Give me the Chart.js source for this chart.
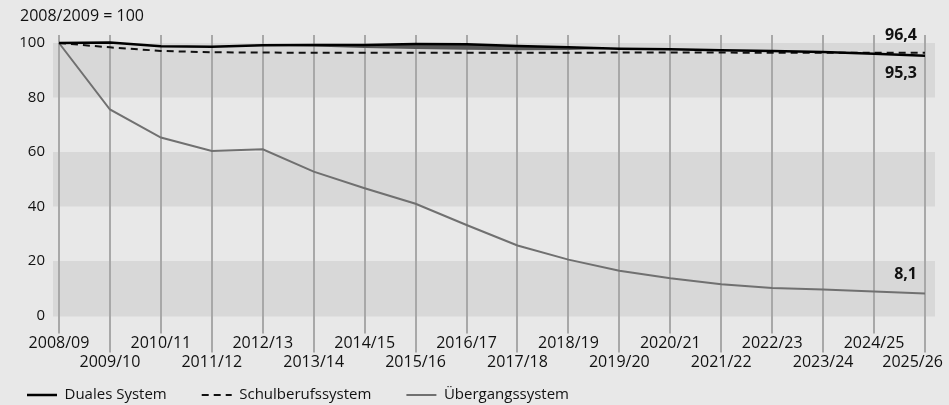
<!DOCTYPE html>
<html>
<head>
<meta charset="utf-8">
<script src="https://cdn.jsdelivr.net/npm/chart.js@4/dist/chart.umd.min.js"></script>
<style>
  html, body { margin: 0; padding: 0; background: #e8e8e8; }
  #wrap { width: 949px; height: 405px; position: relative; }
</style>
</head>
<body>
<div id="wrap"><canvas id="c" width="949" height="405"></canvas></div>
<script>
const categories = ['2008/09','2009/10','2010/11','2011/12','2012/13','2013/14','2014/15','2015/16','2016/17','2017/18','2018/19','2019/20','2020/21','2021/22','2022/23','2023/24','2024/25','2025/26'];
const dualesSystem      = [100, 100.2, 98.8, 98.6, 99.2, 99.3, 99.3, 99.6, 99.5, 98.9, 98.4, 97.9, 97.7, 97.3, 97.1, 96.7, 96.1, 95.3];
const dualesBandLower   = [100, 100.2, 98.8, 98.6, 99.1, 98.7, 98.2, 97.8, 97.5, 97.3, 97.4, 97.9, 97.7, 97.3, 97.1, 96.7, 96.1, 95.3];
const schulberufssystem = [100, 98.4, 97.1, 96.6, 96.5, 96.4, 96.4, 96.4, 96.4, 96.4, 96.4, 96.5, 96.5, 96.5, 96.4, 96.4, 96.4, 96.4];
const uebergangssystem  = [100, 75.6, 65.3, 60.4, 61.0, 52.8, 46.7, 41.0, 33.2, 25.7, 20.5, 16.4, 13.7, 11.5, 10.1, 9.5, 8.8, 8.1];
const yTicks = [0, 20, 40, 60, 80, 100];
const bandRanges = [[80, 100], [40, 60], [0, 20]];
const baseNote = '2008/2009 = 100';

const FONT = '"Open Sans", "Noto Sans", sans-serif';

const bgPlugin = {
  id: 'bg',
  beforeDraw(chart) {
    const {ctx, chartArea, scales: {y}} = chart;
    ctx.save();
    ctx.fillStyle = '#e8e8e8';
    ctx.fillRect(0, 0, chart.width, chart.height);
    ctx.fillStyle = '#d8d8d8';
    bandRanges.forEach(([lo, hi]) => {
      const top = y.getPixelForValue(hi);
      const bot = y.getPixelForValue(lo) + (lo === 0 ? 1 : 0);
      ctx.fillRect(chartArea.left - 6, top, chartArea.right - chartArea.left + 16, bot - top);
    });
    ctx.fillStyle = '#111';
    ctx.font = '16px ' + FONT;
    ctx.textBaseline = 'middle';
    ctx.textAlign = 'left';
    ctx.fillText(baseNote, 20, 16);
    ctx.restore();
  },
  beforeDatasetsDraw(chart) {
    const {ctx, chartArea, scales: {x}} = chart;
    ctx.save();
    ctx.strokeStyle = '#a8a8a8';
    ctx.lineWidth = 2;
    categories.forEach((c, i) => {
      const px = Math.round(x.getPixelForValue(i));
      ctx.beginPath();
      ctx.moveTo(px, chartArea.top - 8);
      ctx.lineTo(px, chartArea.bottom + (i % 2 === 0 ? 18 : 37));
      ctx.stroke();
    });
    ctx.restore();
  },
  afterDraw(chart) {
    const {ctx, chartArea, scales: {x}} = chart;
    ctx.save();
    ctx.fillStyle = '#111';
    ctx.font = '16px ' + FONT;
    ctx.textBaseline = 'middle';
    ctx.textAlign = 'center';
    categories.forEach((c, i) => {
      let px = x.getPixelForValue(i);
      const w = ctx.measureText(c).width;
      px = Math.min(px, chart.width - 6 - w / 2);
      const py = chartArea.bottom + (i % 2 === 0 ? 27.5 : 46.5);
      ctx.fillText(c, px, py);
    });
    // end value labels
    ctx.font = 'bold 16px ' + FONT;
    ctx.textAlign = 'right';
    const endX = x.getPixelForValue(categories.length - 1) - 8;
    const ends = [
      {data: schulberufssystem, dy: -17},
      {data: dualesSystem, dy: 18},
      {data: uebergangssystem, dy: -19}
    ];
    const y = chart.scales.y;
    ends.forEach(e => {
      const v = e.data[e.data.length - 1];
      const py = y.getPixelForValue(v) + e.dy;
      ctx.fillText(v.toFixed(1).replace('.', ','), endX, py);
    });
    ctx.restore();
  }
};

const chart = new Chart(document.getElementById('c'), {
  type: 'line',
  data: {
    labels: categories,
    datasets: [
      {label: 'Duales System', data: dualesSystem, borderColor: '#000', borderWidth: 2.5, pointRadius: 0, tension: 0, clip: false, fill: false},
      {label: '', data: dualesBandLower, borderColor: 'rgba(0,0,0,0)', borderWidth: 0, backgroundColor: '#555555', pointRadius: 0, tension: 0, clip: false, fill: '-1'},
      {label: 'Schulberufssystem', data: schulberufssystem, borderColor: '#111', borderWidth: 2, borderDash: [7, 5], pointRadius: 0, tension: 0, clip: false, fill: false},
      {label: 'Übergangssystem', data: uebergangssystem, borderColor: '#707070', borderWidth: 2, pointRadius: 0, tension: 0, clip: false, fill: false}
    ]
  },
  options: {
    responsive: false,
    animation: false,
    layout: {padding: {left: -8, top: 43, right: 24, bottom: -7.5}},
    plugins: {
      title: {display: false},
      tooltip: {enabled: false},
      legend: {
        display: true,
        position: 'bottom',
        align: 'start',
        labels: {
          usePointStyle: true,
          pointStyle: 'line',
          pointStyleWidth: 30,
          boxWidth: 30,
          padding: 35,
          color: '#111',
          font: {family: FONT, size: 15},
          filter: (item) => item.text !== '',
          generateLabels: (ch) => {
            const items = Chart.defaults.plugins.legend.labels.generateLabels(ch);
            items.forEach(it => {
              const ds = ch.data.datasets[it.datasetIndex];
              it.lineDash = ds.borderDash ? [7, 5] : [];
              it.lineWidth = ds.borderWidth;
              it.strokeStyle = ds.borderColor;
              it.pointStyle = 'line';
            });
            return items;
          }
        }
      }
    },
    scales: {
      x: {
        type: 'category',
        offset: false,
        grid: {display: false},
        border: {display: false},
        ticks: {display: false},
        afterFit: (s) => { s.height = 37; s.paddingLeft = 0; s.paddingRight = 0; }
      },
      y: {
        min: 0,
        max: 100,
        grid: {display: false, drawTicks: false},
        border: {display: false},
        afterBuildTicks: (s) => { s.ticks = yTicks.map(v => ({value: v})); },
        ticks: {padding: 14, color: '#111', font: {family: FONT, size: 15}},
        afterFit: (s) => { s.width = 67; }
      }
    }
  },
  plugins: [bgPlugin]
});
</script>
</body>
</html>
